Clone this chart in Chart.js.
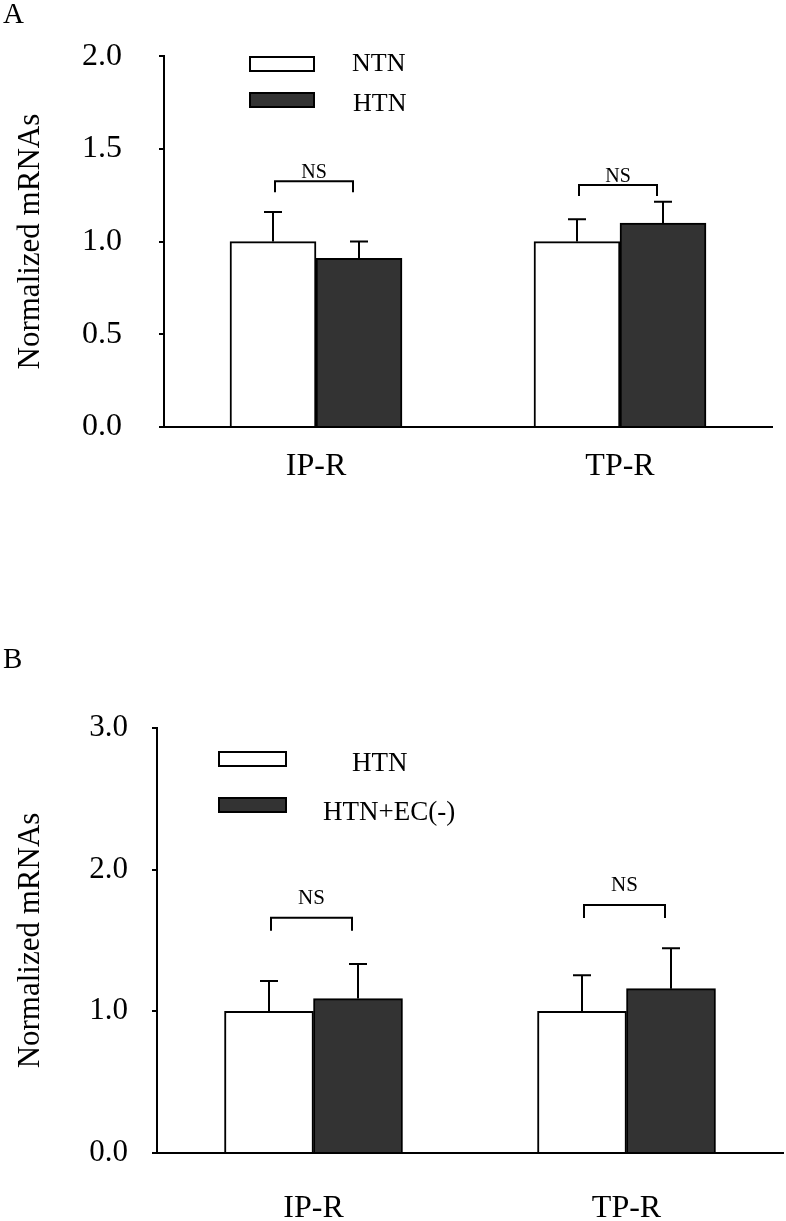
<!DOCTYPE html>
<html>
<head>
<meta charset="utf-8">
<script src="https://cdn.jsdelivr.net/npm/chart.js@4.4.1/dist/chart.umd.min.js"></script>
<style>
  html, body { margin: 0; padding: 0; background: #fff; }
  body { width: 786px; height: 1221px; position: relative; overflow: hidden; }
  .panel { position: absolute; left: 0; }
  #wrapA { top: 0; }
  #wrapB { top: 620px; }
</style>
</head>
<body>
<div class="panel" id="wrapA"><canvas id="chartA" width="786" height="620"></canvas></div>
<div class="panel" id="wrapB"><canvas id="chartB" width="786" height="601"></canvas></div>
<script>
'use strict';

const FONT = '"Liberation Serif", "Times New Roman", Times, serif';

const categories = ['IP-R', 'TP-R'];

// painel A
const labelsA = ['NTN', 'HTN'];
const ntnMean = [1.00, 1.00];
const ntnErr = [0.16, 0.12];
const htnMeanA = [0.91, 1.10];
const htnErrA = [0.09, 0.115];
const nsTopA = [1.325, 1.305];
const yTicksA = [0, 0.5, 1.0, 1.5, 2.0];

// painel B
const labelsB = ['HTN', 'HTN+EC(-)'];
const htnMeanB = [1.00, 1.00];
const htnErrB = [0.215, 0.255];
const htnEcMean = [1.09, 1.16];
const htnEcErr = [0.245, 0.285];
const nsTopB = [1.66, 1.75];
const yTicksB = [0, 1.0, 2.0, 3.0];

// error bars, NS brackets, legend and panel letter
function makeAnnotations(cfg) {
    return {
        id: 'annotations',
        afterDatasetsDraw(chart) {
            const ctx = chart.ctx;
            const yScale = chart.scales.y;
            ctx.save();
            ctx.strokeStyle = '#000';
            ctx.fillStyle = '#000';
            ctx.lineWidth = 2;
            ctx.lineJoin = 'miter';

            cfg.errors.forEach((errs, di) => {
                const meta = chart.getDatasetMeta(di);
                meta.data.forEach((bar, j) => {
                    const top = yScale.getPixelForValue(cfg.means[di][j] + errs[j]);
                    ctx.beginPath();
                    ctx.moveTo(bar.x, bar.y);
                    ctx.lineTo(bar.x, top);
                    ctx.moveTo(bar.x - 9, top);
                    ctx.lineTo(bar.x + 9, top);
                    ctx.stroke();
                });
            });

            const m0 = chart.getDatasetMeta(0);
            const m1 = chart.getDatasetMeta(1);
            ctx.font = `${cfg.nsFont}px ${FONT}`;
            ctx.textAlign = 'center';
            ctx.textBaseline = 'alphabetic';
            cfg.nsTop.forEach((v, j) => {
                const x1 = m0.data[j].x + 2;
                const x2 = m1.data[j].x - 6;
                const y = yScale.getPixelForValue(v);
                ctx.beginPath();
                ctx.moveTo(x1, y + cfg.nsLeg);
                ctx.lineTo(x1, y);
                ctx.lineTo(x2, y);
                ctx.lineTo(x2, y + cfg.nsLeg);
                ctx.stroke();
                ctx.fillText('NS', (x1 + x2) / 2, y - cfg.nsGap);
            });

            // legenda
            const lg = cfg.legend;
            ctx.font = `${lg.font}px ${FONT}`;
            ctx.textAlign = 'left';
            lg.items.forEach((it, i) => {
                ctx.fillStyle = i === 0 ? '#ffffff' : '#333333';
                ctx.fillRect(lg.x, it.y, lg.w, lg.h);
                ctx.strokeRect(lg.x, it.y, lg.w, lg.h);
                ctx.fillStyle = '#000';
                ctx.fillText(cfg.labels[i], it.tx, it.ty);
            });

            ctx.font = `29px ${FONT}`;
            ctx.fillText(cfg.letter, 3, cfg.letterY);
            ctx.restore();
        }
    };
}

function buildChart(id, cfg) {
    return new Chart(document.getElementById(id), {
        type: 'bar',
        data: {
            labels: categories,
            datasets: [
                { label: cfg.labels[0], data: cfg.means[0], backgroundColor: '#ffffff', borderColor: '#000', borderWidth: 2, barThickness: cfg.barWidth },
                { label: cfg.labels[1], data: cfg.means[1], backgroundColor: '#333333', borderColor: '#000', borderWidth: 2, barThickness: cfg.barWidth }
            ]
        },
        options: {
            responsive: false,
            animation: false,
            events: [],
            layout: { padding: { left: 0, right: cfg.padRight, top: cfg.top, bottom: 0 } },
            plugins: { legend: { display: false }, tooltip: { enabled: false } },
            scales: {
                x: {
                    grid: { display: false },
                    border: { display: true, color: '#000', width: 2 },
                    ticks: { color: '#000', font: { family: FONT, size: 32 }, padding: cfg.xPad },
                    afterFit: (s) => { s.height = cfg.xHeight; }
                },
                y: {
                    min: 0,
                    max: cfg.yTicks[cfg.yTicks.length - 1],
                    afterBuildTicks: (s) => { s.ticks = cfg.yTicks.map(v => ({ value: v })); },
                    ticks: { color: '#000', font: { family: FONT, size: cfg.yFont }, padding: cfg.yPad, callback: (v) => Number(v).toFixed(1) },
                    grid: { drawOnChartArea: false, drawTicks: true, tickLength: 5, color: '#000', lineWidth: 2 },
                    border: { display: true, color: '#000', width: 2 },
                    title: { display: true, text: 'Normalized mRNAs', color: '#000', font: { family: FONT, size: 31 }, padding: { top: 12, bottom: 0 } },
                    afterFit: (s) => { s.width = cfg.left; }
                }
            }
        },
        plugins: [makeAnnotations(cfg)]
    });
}

buildChart('chartA', {
    labels: labelsA,
    means: [ntnMean, htnMeanA],
    errors: [ntnErr, htnErrA],
    nsTop: nsTopA,
    yTicks: yTicksA,
    left: 164, padRight: 14, top: 52, xHeight: 193,
    barWidth: 86, xPad: 12, yPad: 37, yFont: 32,
    nsFont: 20, nsLeg: 11, nsGap: 3,
    letter: 'A', letterY: 23,
    legend: { font: 26, x: 250, w: 64, h: 14, items: [
        { y: 57, tx: 352, ty: 71 },
        { y: 93, tx: 353, ty: 111 }
    ] }
});

buildChart('chartB', {
    labels: labelsB,
    means: [htnMeanB, htnEcMean],
    errors: [htnErrB, htnEcErr],
    nsTop: nsTopB,
    yTicks: yTicksB,
    left: 157, padRight: 3, top: 108, xHeight: 68,
    barWidth: 89, xPad: 28, yPad: 24, yFont: 31,
    nsFont: 21, nsLeg: 13, nsGap: 14,
    letter: 'B', letterY: 48,
    legend: { font: 27, x: 219, w: 67, h: 14, items: [
        { y: 132, tx: 352, ty: 151 },
        { y: 178, tx: 323, ty: 200 }
    ] }
});
</script>
</body>
</html>
